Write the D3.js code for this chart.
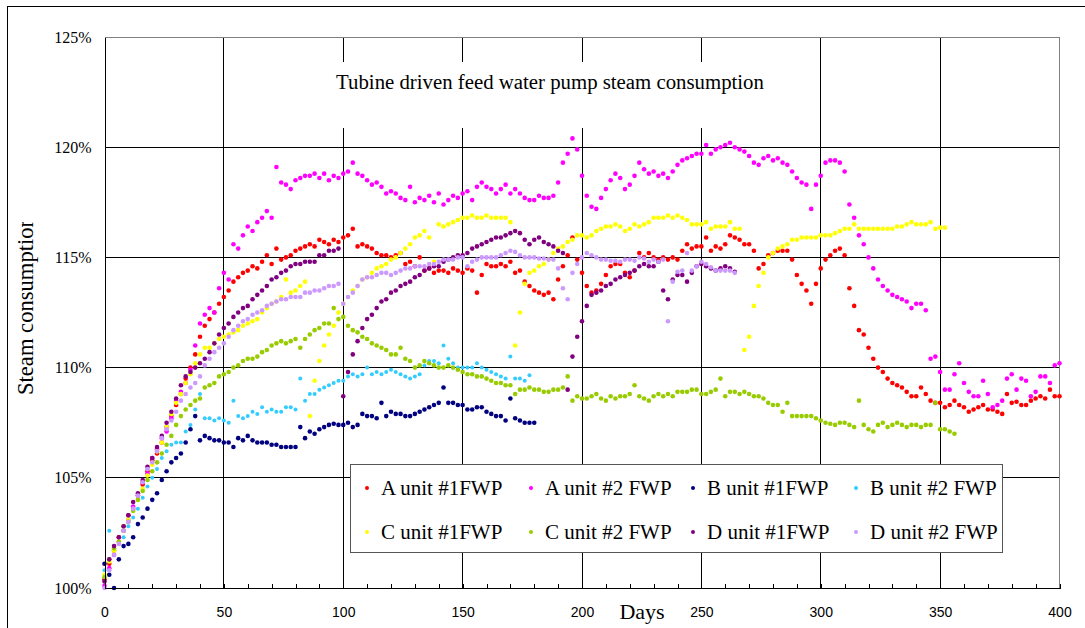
<!DOCTYPE html>
<html>
<head>
<meta charset="utf-8">
<script src="https://cdn.jsdelivr.net/npm/d3@7"></script>
<style>
body { margin: 0; background: #fff; }
</style>
</head>
<body>
<svg id="chart" width="1085" height="628"></svg>
<script>
// readings every 2 days, starting at day 0
let dayStep = 2

let aUnit1 = [100.4, 101.1, 101.7, 102.3, 102.8, 103.3, 103.6, 104.2, 104.7, 105.3,
    105.8, 106.1, 106.6, 107.3, 107.8, 108.3, 108.8, 109.5, 110.0, 110.6,
    111.4, 111.9, 112.2, 112.5, 112.9, 113.2, 113.5, 113.9, 114.1, 114.3,
    114.4, 114.6, 114.5, 114.8, 115.1, 114.7, 115.4, 114.9, 115.0, 115.1,
    115.3, 115.4, 115.5, 115.6, 115.5, 115.8, 115.7, 115.6, 115.8, 115.7,
    115.9, 116.0, 116.3, 115.5, 115.6, 115.5, 115.4, 115.2, 115.1, 115.1,
    115.0, 115.1, 115.2, 114.7, 114.8, 114.6, 115.0, 114.4, 114.5, 114.3,
    114.4, 114.4, 114.3, 114.5, 114.4, 114.3, 114.5, 114.4, 113.4, 114.2,
    114.7, 114.6, 114.6, 114.7, 114.6, 114.8, 114.3, 114.4, 113.9, 113.7,
    113.5, 113.4, 113.3, 113.4, 113.1, 114.0, 114.6, 115.1, 115.9, 114.9,
    114.3, 113.7, 113.4, 113.5, 113.8, 114.2, 114.6, 114.7, 114.7, 114.3,
    114.1, 114.4, 115.2, 115.0, 115.2, 115.0, 114.9, 115.0, 114.9, 115.0,
    114.9, 115.3, 115.6, 115.4, 115.5, 115.5, 115.9, 115.3, 115.5, 115.4,
    115.6, 116.0, 115.9, 115.8, 115.6, 115.6, 115.3, 114.5, 114.7, 115.1,
    115.2, 115.3, 115.3, 115.3, 114.9, 114.2, 113.8, 113.5, 112.9, 113.8,
    114.5, 114.9, 115.1, 115.3, 115.4, 115.1, 113.6, 112.8, 111.7, 111.5,
    110.9, 110.4, 110.0, 109.8, 109.5, 109.3, 109.2, 109.1, 108.9, 108.7,
    108.7, 109.1, 108.8, 108.5, 108.4, 108.4, 108.2, 108.3, 108.5, 108.3,
    108.2, 108.0, 108.1, 108.2, 108.3, 108.1, 108.1, 108.0, 107.9, 108.8,
    108.4, 108.45, 108.3, 108.3, 108.5, 108.6, 108.7, 108.6, 109.0, 108.7, 108.7]

let aUnit2 = [100.1, 100.9, 101.5, 102.1, 102.6, 103.1, 103.7, 104.2, 104.8, 105.2,
    105.9, 106.3, 106.8, 107.1, 107.7, 108.5, 108.9, 109.3, 109.9, 111.0,
    112.0, 112.4, 112.7, 112.5, 113.6, 114.3, 114.0, 115.6, 115.4, 116.0,
    116.4, 116.2, 116.6, 116.8, 117.1, 116.8, 119.1, 118.4, 118.3, 118.1,
    118.5, 118.6, 118.7, 118.7, 118.8, 118.6, 118.8, 118.5, 118.7, 118.6,
    118.8, 118.9, 119.3, 118.8, 118.7, 118.5, 118.3, 118.4, 118.2, 117.9,
    118.0, 117.9, 117.7, 117.6, 118.2, 117.5, 117.7, 117.6, 117.8, 117.5,
    117.9, 117.4, 117.6, 117.8, 117.7, 117.9, 118.0, 117.6, 118.2, 118.4,
    118.2, 118.1, 117.9, 118.1, 118.3, 117.9, 118.1, 117.9, 117.7, 117.6,
    117.6, 117.8, 117.7, 117.7, 117.8, 118.4, 119.3, 119.7, 120.4, 119.9,
    118.7, 117.8, 117.3, 117.2, 117.7, 118.1, 118.5, 118.8, 118.6, 118.1,
    118.3, 118.7, 119.3, 119.0, 118.8, 118.9, 118.7, 118.8, 118.6, 118.9,
    119.2, 119.4, 119.5, 119.6, 119.7, 119.7, 120.1, 119.7, 119.9, 120.0,
    120.1, 120.2, 120.0, 119.9, 119.8, 119.6, 119.3, 119.2, 119.5, 119.6,
    119.4, 119.5, 119.3, 119.2, 118.9, 118.6, 118.4, 118.3, 117.2, 118.3,
    118.7, 119.3, 119.4, 119.4, 119.3, 118.9, 117.4, 116.8, 116.0, 115.6,
    115.0, 114.5, 114.0, 113.7, 113.5, 113.3, 113.2, 113.1, 113.0, 112.7,
    112.9, 112.9, 112.6, 110.4, 110.5, 109.8, 109.0, 109.0, 109.7, 110.2,
    109.3, 108.9, 108.7, 108.7, 109.4, 108.8, 108.2, 108.3, 108.5, 109.5,
    109.7, 109.0, 109.5, 109.4, 108.7, 108.9, 109.6, 109.6, 109.3, 110.1, 110.2]

let bUnit1 = [101.1, 100.6, 100.0, 101.3, 101.9, 102.0, 102.3, 102.9, 103.2, 103.6,
    104.0, 104.3, 104.9, 105.3, 105.7, 105.9, 106.1, 106.6, 107.2, 107.8,
    106.7, 106.9, 106.8, 106.7, 106.7, 106.6, 106.6, 106.4, 106.8, 106.7,
    106.9, 106.7, 106.6, 106.6, 106.6, 106.5, 106.5, 106.4, 106.4, 106.4,
    106.4, 107.3, 106.8, 107.1, 107.0, 107.2, 107.3, 107.4, 107.45, 107.4,
    107.4, 107.5, 107.3, 107.4, 107.9, 107.8, 107.8, 107.7, 108.4, 107.8,
    108.0, 107.9, 107.9, 107.8, 107.8, 107.9, 108.0, 108.1, 108.2, 108.3,
    108.4, 109.1, 108.4, 108.4, 108.3, 108.3, 108.1, 108.1, 108.2, 108.2,
    108.0, 107.9, 107.8, 107.8, 107.6, 108.6, 107.7, 107.6, 107.5, 107.5, 107.5]

let bUnit2 = [100.8, 102.6, 101.9, 102.0, 102.3, 102.8, 103.2, 103.6, 104.1, 104.6,
    105.0, 105.4, 105.9, 106.2, 106.5, 106.6, 106.6, 107.1, 107.4, 108.1,
    108.8, 107.7, 107.7, 107.6, 107.7, 107.6, 107.5, 108.5, 107.8, 107.7,
    107.8, 108.0, 107.9, 108.2, 108.0, 108.1, 108.0, 108.0, 108.2, 108.2,
    108.1, 109.5, 108.5, 108.8, 108.8, 109.0, 109.1, 109.2, 109.3, 109.4,
    109.4, 109.6, 109.7, 109.6, 109.7, 110.0, 109.7, 109.8, 109.7, 109.8,
    109.9, 109.8, 109.7, 109.6, 109.5, 109.6, 109.7, 110.1, 110.3, 110.3,
    110.2, 111.0, 110.4, 110.2, 110.0, 110.0, 110.0, 110.0, 110.2, 110.0,
    109.9, 109.8, 109.7, 109.6, 109.5, 110.5, 109.5, 109.5, 109.4, 109.65]

let cUnit1 = [100.6, 101.2, 101.7, 102.1, 102.8, 103.1, 103.5, 104.0, 104.5, 105.1,
    105.6, 106.2, 106.6, 107.3, 107.9, 108.4, 108.8, 109.3, 109.7, 110.2,
    110.6, 110.9, 110.9, 111.1, 111.3, 111.4, 111.5, 111.6, 111.7, 111.9,
    112.0, 112.1, 112.2, 112.5, 112.7, 112.9, 113.0, 113.2, 114.0, 113.4,
    113.5, 113.7, 113.9, 107.8, 109.4, 110.3, 111.0, 111.5, 111.9, 112.5,
    112.9, 113.2, 113.5, 113.7, 114.0, 114.1, 114.3, 114.5, 114.6, 114.7,
    114.9, 115.0, 115.2, 115.4, 115.6, 115.9, 116.0, 116.2, 115.9, 114.8,
    116.5, 116.4, 116.5, 116.6, 116.7, 116.8, 116.8, 116.9, 116.8, 116.8,
    116.9, 116.8, 116.8, 116.8, 116.8, 116.6, 111.0, 112.5, 113.8, 114.3,
    114.4, 114.6, 114.7, 114.9, 115.2, 115.4, 115.5, 115.7, 115.8, 116.0,
    116.0, 115.9, 116.0, 116.2, 116.3, 116.4, 116.4, 116.5, 116.4, 116.2,
    116.3, 116.5, 116.4, 116.5, 116.6, 116.8, 116.8, 116.8, 116.9, 116.8,
    116.9, 116.8, 116.7, 116.5, 116.5, 116.5, 116.6, 116.3, 116.4, 116.4,
    116.4, 116.6, 116.3, 116.3, 110.8, 111.4, 112.8, 113.7, 114.3, 115.0,
    115.2, 115.4, 115.5, 115.6, 115.8, 115.8, 115.9, 115.9, 115.9, 115.9,
    116.0, 116.0, 116.0, 116.1, 116.2, 116.3, 116.3, 116.5, 116.3, 116.3,
    116.3, 116.3, 116.3, 116.3, 116.3, 116.3, 116.4, 116.4, 116.5, 116.6,
    116.5, 116.5, 116.5, 116.6, 116.3, 116.35, 116.35]

let cUnit2 = [100.5, 101.3, 101.8, 102.1, 102.6, 103.0, 103.5, 104.0, 104.4, 104.9,
    105.3, 105.7, 106.1, 106.5, 106.9, 107.4, 107.8, 108.1, 108.3, 108.5,
    108.6, 109.1, 109.2, 109.3, 109.6, 109.7, 109.8, 110.0, 110.1, 110.3,
    110.4, 110.4, 110.5, 110.7, 110.8, 111.0, 111.1, 111.2, 111.1, 111.2,
    111.3, 110.9, 111.3, 111.5, 111.7, 111.8, 112.0, 112.0, 112.7, 112.2,
    112.3, 111.9, 111.7, 111.6, 111.4, 111.3, 111.1, 111.0, 110.9, 110.8,
    110.6, 110.6, 110.9, 110.4, 110.3, 110.0, 110.1, 110.3, 110.2, 110.1,
    110.0, 110.0, 110.1, 110.0, 109.9, 109.8, 109.7, 109.7, 109.6, 109.6,
    109.5, 109.4, 109.3, 109.3, 109.2, 109.2, 108.8, 109.0, 109.0, 109.1,
    109.0, 109.0, 108.9, 108.9, 109.0, 109.0, 109.1, 109.6, 108.5, 108.7,
    108.6, 108.6, 108.7, 108.8, 108.6, 108.5, 108.7, 108.6, 108.7, 108.7,
    108.8, 109.2, 108.7, 108.6, 108.5, 108.7, 108.8, 108.7, 108.8, 108.7,
    108.9, 108.9, 108.9, 109.0, 109.0, 108.8, 108.8, 108.9, 109.0, 109.5,
    108.7, 108.9, 108.9, 108.8, 108.9, 108.8, 108.7, 108.7, 108.6, 108.4,
    108.3, 108.3, 108.0, 108.4, 107.8, 107.8, 107.8, 107.8, 107.8, 107.7,
    107.6, 107.5, 107.45, 107.4, 107.5, 107.5, 107.4, 107.3, 108.5, 107.4,
    107.2, 107.1, 107.4, 107.5, 107.3, 107.4, 107.5, 107.4, 107.3, 107.4,
    107.4, 107.3, 107.4, 107.4, 108.4, 107.2, 107.2, 107.1, 107.0]

let dUnit1 = [100.3, 101.3, 101.9, 102.3, 102.8, 103.3, 103.9, 104.3, 104.9, 105.5,
    105.9, 106.4, 106.9, 107.5, 108.0, 108.6, 109.2, 109.6, 109.8, 110.0,
    110.2, 110.4, 110.7, 111.1, 111.5, 111.8, 112.0, 112.3, 112.5, 112.7,
    112.8, 113.1, 113.3, 113.5, 113.7, 114.0, 114.1, 114.3, 114.4, 114.6,
    114.7, 114.7, 114.8, 114.8, 114.8, 115.1, 115.1, 115.3, 115.3, 115.4,
    108.7, 109.8, 110.6, 111.2, 111.8, 112.2, 112.4, 112.7, 113.0, 113.1,
    113.4, 113.5, 113.7, 113.8, 113.9, 114.1, 114.2, 114.4, 114.5, 114.6,
    114.6, 114.8, 114.9, 115.0, 115.1, 115.1, 115.2, 115.4, 115.5, 115.6,
    115.7, 115.8, 115.9, 115.9, 116.0, 116.1, 116.2, 116.1, 115.8, 115.6,
    115.8, 115.9, 115.7, 115.6, 115.5, 115.3, 115.2, 109.0, 110.5, 111.4,
    112.1, 112.8, 113.3, 113.4, 113.5, 113.7, 113.8, 114.0, 114.1, 114.2,
    114.3, 114.4, 114.6, 114.7, 114.6, 114.6, 114.8, 113.5, 113.1, 114.0,
    114.2, 114.2, 113.9, 114.3, 114.6, 114.7, 114.6, 114.5, 114.4, 114.5,
    114.6, 114.5, 114.35]

let dUnit2 = [100.0, 100.8, 101.5, 102.0, 102.6, 103.0, 103.6, 104.2, 104.8, 105.4,
    105.7, 106.2, 106.8, 107.2, 107.6, 108.0, 108.5, 108.8, 109.1, 109.3,
    109.6, 110.1, 110.4, 110.7, 110.9, 111.1, 111.4, 111.7, 111.9, 112.1,
    112.2, 112.4, 112.5, 112.6, 112.8, 112.9, 113.0, 113.1, 113.1, 113.2,
    113.2, 113.2, 113.4, 113.4, 113.5, 113.5, 113.6, 113.7, 113.7, 113.8,
    112.9, 113.2, 113.4, 113.7, 114.0, 114.1, 114.1, 114.2, 114.3, 114.3,
    114.2, 114.3, 114.4, 114.5, 114.5, 114.6, 114.6, 114.6, 114.7, 114.7,
    114.8, 114.9, 114.9, 114.9, 115.0, 115.0, 114.6, 114.8, 114.9, 115.0,
    115.0, 115.0, 115.0, 115.1, 115.2, 115.3, 115.25, 115.1, 115.0, 115.0,
    115.0, 114.95, 114.95, 114.9, 114.9, 114.5, 113.6, 113.1, 114.3, 114.7,
    115.0, 115.2, 115.1, 115.0, 114.9, 114.9, 114.85, 114.85, 114.8, 114.9,
    114.9, 114.85, 115.0, 114.95, 114.8, 114.9, 114.8, 114.9, 112.1, 113.9,
    114.35, 114.4, 115.2, 114.4, 114.6, 114.8, 114.7, 114.55, 114.4, 114.4,
    114.4, 114.4, 114.3]

let seriesLabels = ["A unit #1FWP", "A unit #2 FWP", "B unit #1FWP", "B unit #2 FWP",
    "C unit #1FWP", "C unit #2 FWP", "D unit #1FWP", "D unit #2 FWP"]
let seriesValues = [aUnit1, aUnit2, bUnit1, bUnit2, cUnit1, cUnit2, dUnit1, dUnit2]
let seriesColors = ["#ff0000", "#ff00ff", "#000080", "#33ccff", "#ffff00", "#99cc00", "#800080", "#cc99ff"]

let xTicks = [0, 50, 100, 150, 200, 250, 300, 350, 400]
let yTicks = [100, 105, 110, 115, 120, 125]

let chartTitle = "Tubine driven feed water pump steam consumption"
let xTitle = "Days"
let yTitle = "Steam consumption"

function drawChart() {
    let svg = d3.select("#chart")
    let serif = "'Liberation Serif', 'Times New Roman', serif"

    let left = 104.5, right = 1059.5, top = 37, bottom = 588

    let xScale = d3.scaleLinear([0, 400], [left, right])
    let yScale = d3.scaleLinear([100, 125], [bottom, top])

    // chart area frame (right/bottom edges fall outside the picture)
    svg.append("rect")
        .attr("x", 7.5).attr("y", 6.5)
        .attr("width", 1100).attr("height", 650)
        .attr("fill", "none").attr("stroke", "#000")

    let grid = svg.append("g").attr("shape-rendering", "crispEdges")

    grid.selectAll("hline")
        .data(yTicks.filter(d => d > 100 && d < 125))
        .enter()
        .append("line")
        .attr("x1", left).attr("x2", right)
        .attr("y1", d => yScale(d)).attr("y2", d => yScale(d))
        .attr("stroke", "#000")

    grid.selectAll("vline")
        .data(xTicks.filter(d => d > 0 && d < 400))
        .enter()
        .append("line")
        .attr("x1", d => xScale(d)).attr("x2", d => xScale(d))
        .attr("y1", top).attr("y2", bottom)
        .attr("stroke", "#000")

    // plot area border on top / right
    grid.append("path")
        .attr("d", `M${left},${top}H${right}V${bottom}`)
        .attr("fill", "none").attr("stroke", "#808080")

    // title sits on a white patch inside the plot
    svg.append("rect")
        .attr("x", 328).attr("y", 62)
        .attr("width", 446).attr("height", 66)
        .attr("fill", "#fff")

    svg.append("text")
        .attr("x", 550).attr("y", 89)
        .attr("text-anchor", "middle")
        .attr("font-family", serif)
        .attr("font-size", 20.8)
        .text(chartTitle)

    // points
    for (let s = 0; s < seriesValues.length; s++) {
        let pts = seriesValues[s].map((v, i) => ({day: i * dayStep, value: v}))
        svg.append("g")
            .selectAll("circle")
            .data(pts)
            .enter()
            .append("circle")
            .attr("cx", d => xScale(d.day))
            .attr("cy", d => yScale(d.value))
            .attr("r", s === 3 ? 2 : 2.3)
            .attr("fill", seriesColors[s])
    }

    // x axis: minor ticks every 10 days, labels every 50
    let xAxis = d3.axisBottom(xScale)
        .tickValues(d3.range(0, 401, 10))
        .tickSize(-4)
        .tickPadding(19)
        .tickFormat(d => d % 50 === 0 ? d : "")

    let gx = svg.append("g")
        .attr("transform", `translate(0,${bottom})`)
        .attr("shape-rendering", "crispEdges")
        .call(xAxis)
    gx.select(".domain").attr("stroke", "#000")
    gx.selectAll("line").attr("stroke", "#000")
    gx.selectAll("text")
        .attr("font-family", "'Liberation Sans', Arial, sans-serif")
        .attr("font-size", 14)
        .attr("fill", "#000")

    let yAxis = d3.axisLeft(yScale)
        .tickValues(yTicks)
        .tickSize(0)
        .tickPadding(13)
        .tickFormat(d => d + "%")

    let gy = svg.append("g")
        .attr("transform", `translate(${left},0)`)
        .attr("shape-rendering", "crispEdges")
        .call(yAxis)
    gy.select(".domain").attr("stroke", "#000")
    gy.selectAll("text")
        .attr("font-family", serif)
        .attr("font-size", 16)
        .attr("fill", "#000")

    svg.append("text")
        .attr("x", 642).attr("y", 619)
        .attr("text-anchor", "middle")
        .attr("font-family", serif)
        .attr("font-size", 22)
        .text(xTitle)

    // the axis title is cut off at the top, like in the original
    svg.append("clipPath").attr("id", "ytitleClip")
        .append("rect")
        .attr("x", 0).attr("y", 222)
        .attr("width", 60).attr("height", 300)

    svg.append("g")
        .attr("clip-path", "url(#ytitleClip)")
        .append("text")
        .attr("transform", "translate(33.3,395) rotate(-90)")
        .attr("font-family", serif)
        .attr("font-size", 22.6)
        .text(yTitle)

    // legend
    let legend = svg.append("g")
    legend.append("rect")
        .attr("x", 350.5).attr("y", 464.5)
        .attr("width", 652).attr("height", 88)
        .attr("fill", "#fff")
        .attr("stroke", "#555")

    let colX = [367, 531, 693, 856]
    let rowY = [488, 532]

    for (let i = 0; i < seriesLabels.length; i++) {
        let cx = colX[i % 4]
        let cy = rowY[Math.floor(i / 4)]
        legend.append("circle")
            .attr("cx", cx).attr("cy", cy)
            .attr("r", 2)
            .attr("fill", seriesColors[i])
        legend.append("text")
            .attr("x", cx + 14).attr("y", cy)
            .attr("dy", "0.35em")
            .attr("font-family", serif)
            .attr("font-size", 21)
            .text(seriesLabels[i])
    }
}

drawChart()
</script>
</body>
</html>
